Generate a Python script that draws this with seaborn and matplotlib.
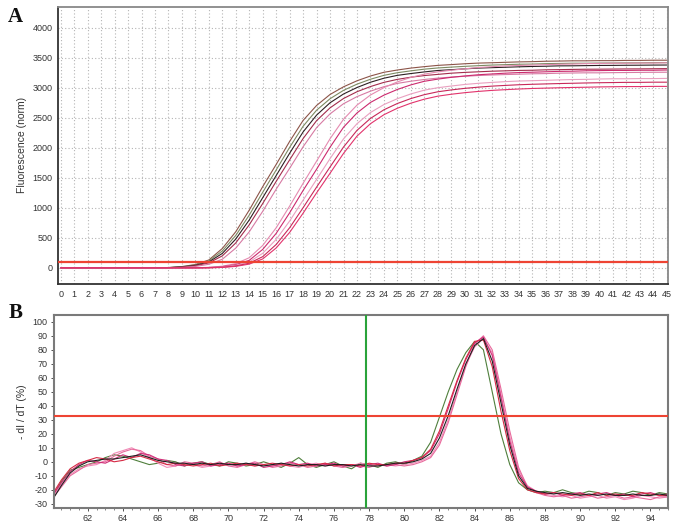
import numpy as np
import pandas as pd
import matplotlib
matplotlib.use("Agg")
import matplotlib.pyplot as plt
import seaborn as sns
from matplotlib.ticker import MultipleLocator

# ---------------- Panel A: amplification curves ----------------
cycles = list(range(46))
z8, z10, z11, z12 = [0] * 8, [0] * 10, [0] * 11, [0] * 12
amp_a1 = z8 + [5, 21, 55, 131, 322, 602, 962, 1353, 1723, 2107, 2457, 2706, 2889, 3017, 3117, 3197,
               3259, 3297, 3329, 3353, 3374, 3387, 3401, 3412, 3418, 3425, 3432, 3436, 3443, 3446, 3450, 3450,
               3453, 3453, 3457, 3457, 3460, 3460]
amp_a2 = z8 + [3, 17, 48, 116, 280, 540, 879, 1259, 1631, 2008, 2360, 2627, 2818, 2958, 3061, 3143,
               3208, 3252, 3283, 3311, 3331, 3345, 3358, 3369, 3379, 3386, 3393, 3396, 3403, 3406, 3410, 3410,
               3413, 3414, 3416, 3417, 3419, 3420]
amp_a3 = z8 + [3, 14, 41, 98, 240, 480, 798, 1169, 1538, 1910, 2265, 2545, 2751, 2897, 3005, 3093,
               3160, 3208, 3238, 3265, 3289, 3302, 3316, 3329, 3336, 3343, 3350, 3356, 3360, 3366, 3367, 3370,
               3373, 3374, 3376, 3377, 3379, 3380]
amp_a4 = z8 + [2, 11, 35, 82, 199, 415, 717, 1072, 1441, 1800, 2155, 2453, 2666, 2822, 2935, 3021,
               3091, 3141, 3177, 3204, 3224, 3244, 3257, 3267, 3277, 3283, 3290, 3293, 3300, 3303, 3307, 3310,
               3311, 3313, 3315, 3316, 3318, 3320]
amp_a5 = z8 + [1, 6, 23, 59, 143, 329, 600, 942, 1311, 1659, 2018, 2337, 2566, 2735, 2853, 2944,
               3019, 3074, 3110, 3139, 3162, 3179, 3192, 3205, 3214, 3221, 3227, 3234, 3237, 3244, 3247, 3250,
               3250, 3253, 3255, 3257, 3259, 3260]
amp_b1 = z10 + [1, 8, 27, 70, 168, 373, 667, 1029, 1409, 1778, 2151, 2476, 2712, 2880, 3003, 3099,
                3174, 3228, 3266, 3293, 3317, 3338, 3352, 3365, 3372, 3379, 3386, 3393, 3396, 3403, 3406, 3410,
                3410, 3413, 3413, 3417]
amp_b2 = z11 + [5, 20, 53, 125, 307, 574, 917, 1290, 1643, 2010, 2343, 2581, 2756, 2878, 2973, 3049,
                3109, 3145, 3175, 3198, 3218, 3231, 3244, 3254, 3260, 3267, 3274, 3277, 3284, 3287, 3290, 3290,
                3293, 3293, 3297]
amp_b3 = z11 + [3, 15, 41, 99, 242, 474, 780, 1128, 1473, 1820, 2149, 2402, 2588, 2721, 2819, 2898,
                2961, 3002, 3030, 3056, 3075, 3090, 3103, 3113, 3119, 3125, 3132, 3138, 3141, 3147, 3151, 3151,
                3154, 3154, 3157]
amp_b4 = z11 + [2, 10, 31, 77, 186, 389, 668, 1002, 1345, 1681, 2013, 2291, 2490, 2634, 2739, 2821,
                2886, 2934, 2965, 2991, 3011, 3028, 3040, 3051, 3059, 3065, 3071, 3076, 3081, 3085, 3088, 3091,
                3091, 3094, 3094]
amp_b5 = z12 + [7, 24, 62, 148, 331, 590, 911, 1249, 1576, 1907, 2195, 2402, 2552, 2660, 2744, 2811,
                2861, 2893, 2919, 2940, 2957, 2969, 2980, 2989, 2995, 3001, 3006, 3010, 3015, 3018, 3021, 3021,
                3024, 3024]
amp_threshold = 100

amp_curves = {"a1": amp_a1, "a2": amp_a2, "a3": amp_a3, "a4": amp_a4, "a5": amp_a5,
              "b1": amp_b1, "b2": amp_b2, "b3": amp_b3, "b4": amp_b4, "b5": amp_b5}
amp_colors = {"a1": "#8c5448", "a2": "#7d8a62", "a3": "#2e1f22", "a4": "#a32c4c", "a5": "#d77aa3",
              "b1": "#e58ab0", "b2": "#cc2a6e", "b3": "#eaa0c0", "b4": "#c8285a", "b5": "#e2336c"}

# ---------------- Panel B: melt curves ----------------
temps = np.arange(60.0, 95.01, 0.5)
melt_black = [-27, -17, -8, -3, 0, 1, 2, 2, 3, 4,
              5, 3, 1, 0, -1, -1, -2, -1, -2, -1,
              -2, -2, -1, -2, -3, -2, -1, -2, -3, -2,
              -2, -3, -2, -2, -3, -2, -3, -3, -2, -1,
              -1, 0, 2, 6, 17, 33, 52, 70, 83, 88,
              72, 42, 12, -10, -19, -21, -22, -23, -22, -23,
              -24, -23, -24, -23, -24, -24, -23, -24, -24, -23,
              -24]
melt_green = [-25, -14, -6, -4, -2, 0, 3, 5, 4, 2,
              0, -2, -1, 1, 0, -3, -1, 0, -2, -3,
              0, -1, -3, -2, 0, -2, -4, -1, 3, -2,
              -4, -2, 0, -3, -5, -1, -2, -4, -1, 0,
              -2, 1, 4, 14, 32, 50, 66, 78, 86, 80,
              50, 20, -2, -15, -20, -22, -21, -22, -20, -22,
              -23, -21, -22, -24, -22, -23, -21, -22, -24, -22,
              -23]
melt_pink = [-26, -18, -10, -6, -2, -1, 0, 4, 7, 9,
             8, 4, 2, -2, -3, 0, -1, -3, -2, 0,
             -3, -4, -2, 0, -2, -4, -3, -1, -2, -4,
             -3, -1, -3, -4, -2, -3, -4, -2, -3, -2,
             -3, -2, 0, 3, 12, 28, 48, 68, 84, 90,
             80, 52, 22, -4, -18, -22, -24, -25, -24, -26,
             -25, -24, -26, -25, -24, -26, -25, -26, -27, -25,
             -25]
melt_magenta = [-24, -15, -7, -2, 1, 0, -1, 2, 5, 3,
                6, 5, 2, 1, -2, -3, -1, 0, -3, -2,
                -1, -3, -2, -1, -4, -3, -2, 0, -2, -1,
                -3, -2, -1, -3, -2, -4, -2, -1, -3, -2,
                0, 1, 3, 8, 20, 38, 57, 73, 85, 89,
                76, 46, 15, -8, -18, -21, -23, -22, -24, -23,
                -22, -24, -23, -22, -24, -23, -25, -23, -22, -24,
                -23]
melt_red = [-23, -13, -5, -1, 1, 3, 2, 0, 1, 3,
            4, 2, 0, -2, -1, -2, -3, -2, -1, -3,
            -2, -1, -2, -3, -2, -1, -2, -3, -2, -3,
            -2, -1, -3, -2, -2, -3, -1, -2, -2, -1,
            -1, 1, 3, 9, 22, 40, 58, 74, 86, 87,
            68, 36, 8, -12, -20, -22, -23, -22, -23, -24,
            -23, -24, -22, -24, -23, -24, -24, -22, -23, -24,
            -24]
melt_lightpink = [-25, -16, -9, -5, -3, -2, 1, 6, 8, 10,
                  7, 3, -1, -4, -3, -1, -2, -4, -3, -1,
                  -2, -3, -1, -3, -2, -3, -1, -3, -4, -2,
                  -1, -3, -2, -4, -3, -1, -2, -3, -2, -3,
                  -2, -1, 1, 4, 14, 30, 50, 69, 82, 88,
                  78, 48, 18, -6, -17, -21, -23, -24, -25, -24,
                  -26, -25, -24, -26, -25, -27, -26, -24, -25, -26,
                  -25]
melt_threshold = 33
melt_marker_temp = 77.85

melt_curves = {"green": melt_green, "lightpink": melt_lightpink, "pink": melt_pink,
               "magenta": melt_magenta, "red": melt_red, "black": melt_black}
melt_colors = {"green": "#4f7f3c", "lightpink": "#f08cb8", "pink": "#e86a9c",
               "magenta": "#cf2f78", "red": "#d62a44", "black": "#1e1e1e"}

df_amp = pd.concat([pd.DataFrame({"cycle": cycles, "fluor": v, "curve": k}) for k, v in amp_curves.items()])
df_melt = pd.concat([pd.DataFrame({"temp": temps, "dIdT": v, "curve": k}) for k, v in melt_curves.items()])

sns.set_style("white")
plt.rcParams["font.family"] = ["Liberation Sans Narrow", "Liberation Sans", "DejaVu Sans"]
plt.rcParams["axes.unicode_minus"] = False

fig = plt.figure(figsize=(6.81, 5.25), dpi=100)
axA = fig.add_axes([0.0852, 0.459, 0.8958, 0.528])
axB = fig.add_axes([0.079, 0.0324, 0.902, 0.368])

# Panel A
sns.lineplot(data=df_amp, x="cycle", y="fluor", hue="curve", palette=amp_colors,
             legend=False, ax=axA, linewidth=0.8, estimator=None)
axA.axhline(amp_threshold, color="#ee4433", lw=1.6, zorder=5)
axA.set_xlim(-0.2, 45.1)
axA.set_ylim(-270, 4350)
axA.xaxis.set_major_locator(MultipleLocator(1))
axA.yaxis.set_major_locator(MultipleLocator(500))
axA.grid(True, color="#b4b4b4", lw=0.8, ls=(0, (1, 2)))
axA.set_xlabel("")
axA.set_ylabel("Fluorescence (norm)", fontsize=7.5, color="#333333", labelpad=4,
               family=["Liberation Sans", "DejaVu Sans"])
axA.tick_params(axis="both", labelsize=6.5, colors="#333333", length=2, width=0.6, pad=2)
for s in axA.spines.values():
    s.set_color("#333333")
    s.set_linewidth(1.3)
axA.spines["right"].set_color("#888888")
axA.spines["top"].set_color("#888888")

# Panel B
sns.lineplot(data=df_melt, x="temp", y="dIdT", hue="curve", palette=melt_colors,
             legend=False, ax=axB, linewidth=0.8, estimator=None)
axB.axhline(melt_threshold, color="#ee4433", lw=1.5, zorder=5)
axB.axvline(melt_marker_temp, color="#2aa33a", lw=1.5, zorder=5)
axB.set_xlim(60.07, 95.0)
axB.set_ylim(-33, 105)
axB.xaxis.set_minor_locator(MultipleLocator(0.5))
axB.yaxis.set_major_locator(MultipleLocator(10))
axB.set_xticks([t for t in range(62, 95, 2)])
axB.set_xlabel("")
axB.set_ylabel("- dI / dT (%)", fontsize=7.5, color="#333333", labelpad=4,
               family=["Liberation Sans", "DejaVu Sans"])
axB.tick_params(axis="both", which="major", labelsize=6.5, colors="#333333", length=2.5, width=0.6, pad=2)
axB.tick_params(axis="x", which="minor", length=1.5, width=0.5, colors="#555555", bottom=True)
axB.tick_params(axis="y", left=True)
axB.tick_params(axis="x", bottom=True)
for s in axB.spines.values():
    s.set_color("#7a7a7a")
    s.set_linewidth(1.5)

fig.text(0.012, 0.958, "A", fontsize=15, fontweight="bold",
         family=["Liberation Serif", "DejaVu Serif"], color="#111111")
fig.text(0.012, 0.395, "B", fontsize=15, fontweight="bold",
         family=["Liberation Serif", "DejaVu Serif"], color="#111111")

fig.savefig("out.png", dpi=100)
